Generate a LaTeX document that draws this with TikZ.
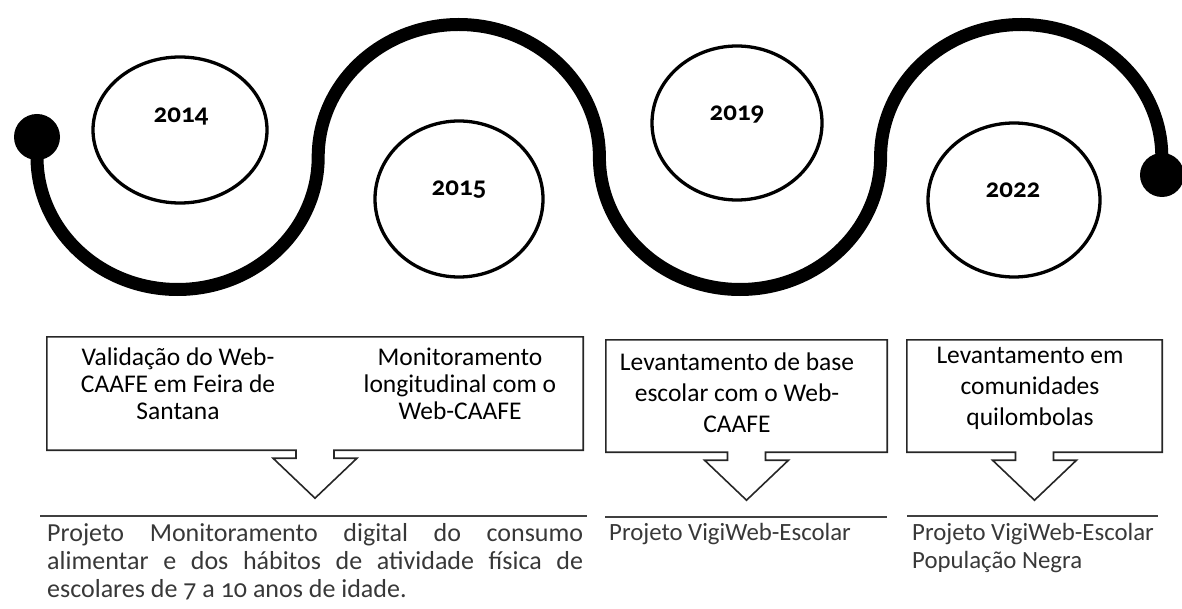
\documentclass[tikz,border=0pt]{standalone}
\usepackage{fontspec}
\setmainfont{Carlito}[Numbers=OldStyle]
\usetikzlibrary{shapes.geometric,calc}
\begin{document}
\begin{tikzpicture}[x=1pt,y=1pt,yscale=-1,
  wave/.style={line width=13pt, black},
  dot/.style={circle, fill=black, inner sep=0pt},
  yearell/.style={ellipse, draw=black, line width=3.3pt, inner sep=0pt},
  yeartxt/.style={font=\fontsize{27}{30}\selectfont\bfseries, inner sep=0pt},
  boxarea/.style={rectangle, inner sep=0pt},
  callout/.style={draw=black!85, line width=1.6pt, line join=miter},
  boxtxt/.style={font=\fontsize{25.5}{27}\selectfont, align=center, inner sep=0pt},
  boxtxtb/.style={font=\fontsize{25.5}{31}\selectfont, align=center, inner sep=0pt},
  rulel/.style={draw=black!75, line width=2pt},
  desc/.style={font=\fontsize{26}{28}\selectfont, text=black!78, inner sep=0pt, anchor=north west},
  descs/.style={desc, font=\fontsize{24.8}{28}\selectfont}
]
\useasboundingbox (0,0) rectangle (1182,609);

% end dots
\node[dot, minimum size=46pt] (dotL) at (37,137) {};
\node[dot, minimum size=44pt] (dotR) at (1162,175) {};

% wave
\draw[wave] (dotL.center) -- (37,157)
  arc[start angle=180,end angle=0,x radius=140.6,y radius=132.5]
  arc[start angle=180,end angle=360,x radius=140.6,y radius=132.5]
  arc[start angle=180,end angle=0,x radius=140.6,y radius=132.5]
  arc[start angle=180,end angle=360,x radius=140.6,y radius=132.5]
  -- (dotR.center);

% year ellipses
\node[yearell, minimum width=174pt, minimum height=146pt] (e2014) at (180,130) {};
\node[yeartxt] (t2014) at (181,117) {2014};
\node[yearell, minimum width=168pt, minimum height=156pt] (e2015) at (459,199) {};
\node[yeartxt] (t2015) at (459,190) {2015};
\node[yearell, minimum width=170pt, minimum height=154pt] (e2019) at (737,123) {};
\node[yeartxt] (t2019) at (737,115) {2019};
\node[yearell, minimum width=172pt, minimum height=154pt] (e2022) at (1014,200) {};
\node[yeartxt] (t2022) at (1013,190) {2022};

% callout boxes
\node[boxarea, minimum width=536pt, minimum height=113pt] (b1) at (315,393.5) {};
\node[boxarea, minimum width=281pt, minimum height=112pt] (b2) at (746.5,396) {};
\node[boxarea, minimum width=255pt, minimum height=112pt] (b3) at (1034.5,396) {};
\foreach \b in {b1,b2,b3}{
  \draw[callout] (\b.south west) -- (\b.north west) -- (\b.north east) -- (\b.south east)
    -- ($(\b.south)+(19,0)$) -- ($(\b.south)+(19,8)$) -- ($(\b.south)+(42,8)$)
    -- ($(\b.south)+(0,48)$) -- ($(\b.south)+(-42,8)$) -- ($(\b.south)+(-19,8)$)
    -- ($(\b.south)+(-19,0)$) -- cycle;
}

\node[boxtxt] (b1l) at (178,384) {Validação do Web-\\CAAFE em Feira de\\Santana};
\node[boxtxt] (b1r) at (460,384) {Monitoramento\\longitudinal com o\\Web-CAAFE};
\node[boxtxtb] (b2t) at (737,393) {Levantamento de base\\escolar com o Web-\\CAAFE};
\node[boxtxtb] (b3t) at (1030,388) {Levantamento em\\comunidades\\quilombolas};

% rules
\draw[rulel] (40,516) -- (587,516);
\draw[rulel] (605,517) -- (887,517);
\draw[rulel] (907,516) -- (1158,516);

% descriptions
\node[desc, text width=536pt, align=justify] (d1) at (47,523)
  {Projeto Monitoramento digital do consumo\linebreak alimentar e dos hábitos de atividade física de\linebreak escolares de 7 a 10 anos de idade.};
\node[descs] (d2) at (609,523) {Projeto VigiWeb-Escolar};
\node[descs, align=left] (d3) at (912,523) {Projeto VigiWeb-Escolar\\População Negra};
\end{tikzpicture}
\end{document}
